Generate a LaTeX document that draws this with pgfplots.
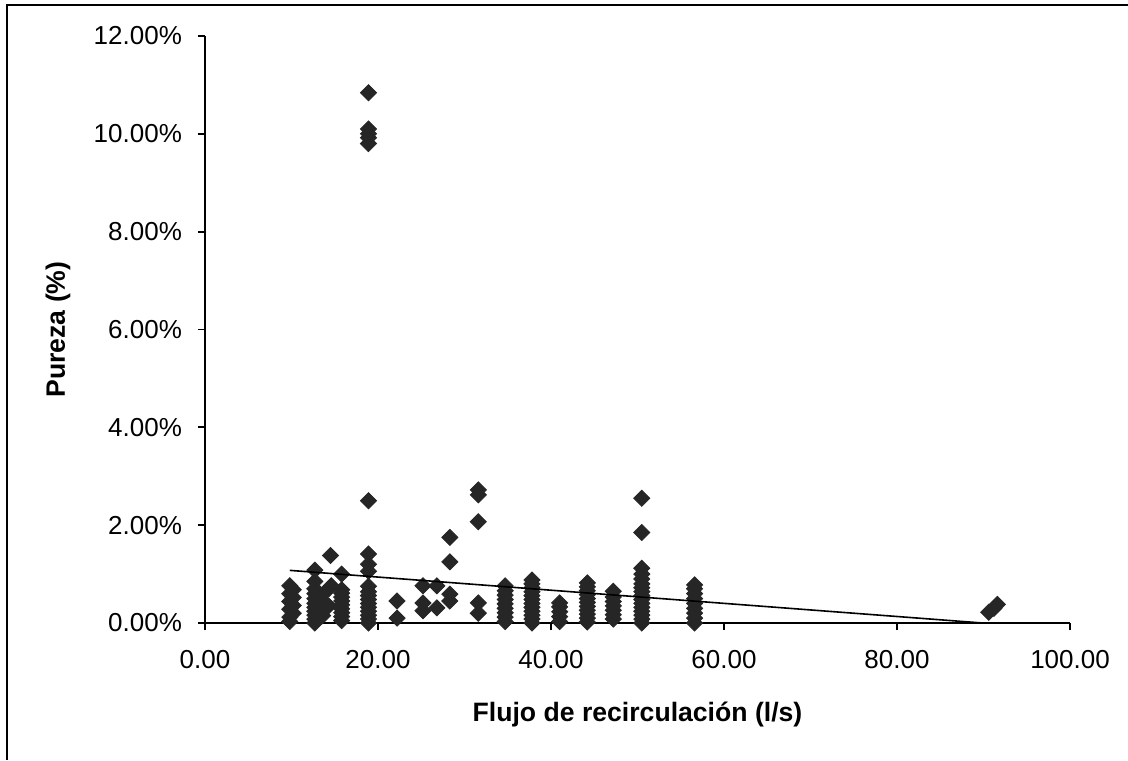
\documentclass[border=0pt]{standalone}
\usepackage{fontspec}
\setmainfont{Liberation Sans}
\usepackage{pgfplots}
\pgfplotsset{compat=1.18}
\definecolor{mkc}{RGB}{38,38,38}
\pgfplotstableread{
x y
9.8 0.03
9.8 0.12
10.2 0.20
9.8 0.28
10.2 0.36
9.8 0.44
10.2 0.52
9.8 0.60
10.2 0.68
9.8 0.76
12.7 0.00
12.7 0.08
12.7 0.16
12.7 0.24
12.7 0.32
12.7 0.40
12.7 0.50
12.7 0.60
12.7 0.70
12.7 0.85
12.7 1.08
13.6 0.15
13.6 0.45
13.6 0.58
14.3 0.70
14.6 0.76
14.5 1.38
14.3 0.35
15.8 0.05
15.8 0.13
15.8 0.21
15.8 0.29
15.8 0.37
15.8 0.45
15.8 0.53
15.8 0.61
15.8 0.68
15.8 1.00
18.9 0.00
18.9 0.08
18.9 0.16
18.9 0.24
18.9 0.32
18.9 0.40
18.9 0.48
18.9 0.56
18.9 0.64
18.9 0.75
18.9 1.06
18.9 1.20
18.9 1.41
18.9 2.50
18.9 9.80
18.9 9.92
18.9 10.00
18.9 10.10
18.9 10.84
22.2 0.10
22.2 0.45
25.2 0.25
25.2 0.41
25.2 0.76
26.8 0.31
26.8 0.76
28.3 0.45
28.3 0.59
28.3 1.25
28.3 1.75
31.6 0.20
31.6 0.41
31.6 2.07
31.6 2.62
31.6 2.72
34.7 0.03
34.7 0.12
34.7 0.21
34.7 0.30
34.7 0.39
34.7 0.48
34.7 0.57
34.7 0.66
34.7 0.76
37.8 0.00
37.8 0.08
37.8 0.16
37.8 0.24
37.8 0.32
37.8 0.40
37.8 0.48
37.8 0.56
37.8 0.64
37.8 0.72
37.8 0.80
37.8 0.88
41.0 0.03
41.0 0.13
41.0 0.23
41.0 0.33
41.0 0.41
44.2 0.02
44.2 0.10
44.2 0.18
44.2 0.26
44.2 0.34
44.2 0.42
44.2 0.50
44.2 0.58
44.2 0.66
44.2 0.74
44.2 0.82
47.2 0.08
47.2 0.17
47.2 0.26
47.2 0.35
47.2 0.44
47.2 0.53
47.2 0.65
50.5 0.00
50.5 0.08
50.5 0.16
50.5 0.24
50.5 0.32
50.5 0.40
50.5 0.48
50.5 0.56
50.5 0.64
50.5 0.72
50.5 0.80
50.5 0.90
50.5 1.00
50.5 1.12
50.5 1.85
50.5 2.55
56.6 0.00
56.6 0.10
56.6 0.20
56.6 0.30
56.6 0.40
56.6 0.50
56.6 0.60
56.6 0.70
56.6 0.78
90.6 0.22
91.2 0.30
91.6 0.38
}\datatable
\begin{document}
\begin{tikzpicture}
\path[use as bounding box] (-102.5pt,-68.5pt) rectangle (461.5pt,311.5pt);
\draw[line width=0.9pt] (-99pt,-68.5pt) -- (-99pt,309pt) -- (461.5pt,309pt);
\begin{axis}[
  at={(0,0)}, anchor=south west,
  scale only axis, width=432.5pt, height=293.5pt,
  xmin=0, xmax=100, ymin=0, ymax=12,
  axis lines*=left,
  axis line style={line width=0.9pt,-},
  tick align=outside,
  major tick length=3.5pt,
  tick style={line width=0.9pt, black},
  xtick={0,20,...,100}, ytick={0,2,...,12},
  /pgf/number format/assume math mode=true,
  xticklabel={\pgfmathprintnumber[fixed,fixed zerofill,precision=2]{\tick}},
  yticklabel={\pgfmathprintnumber[fixed,fixed zerofill,precision=2]{\tick}\%},
  ticklabel style={font=\fontsize{13}{15}\selectfont},
  xticklabel style={yshift=-6.5pt},
  yticklabel style={xshift=-4.5pt},
  xlabel={Flujo de recirculación (l/s)},
  ylabel={Pureza (\%)},
  label style={font=\bfseries\fontsize{13.3}{15}\selectfont},
  xlabel style={at={(axis description cs:0.5,-0.167)}, anchor=base},
  ylabel style={at={(axis description cs:-0.1619,0.5)}, anchor=base},
  clip mode=individual,
]
\addplot[only marks, mark=square*, mark size=2.85pt,
  mark options={rotate=45, fill=mkc, draw=mkc}] table[x=x,y=y] {\datatable};
\addplot[black, line width=0.8pt, mark=none] coordinates {(9.8,1.076) (91.6,-0.023)};
\end{axis}
\end{tikzpicture}
\end{document}
